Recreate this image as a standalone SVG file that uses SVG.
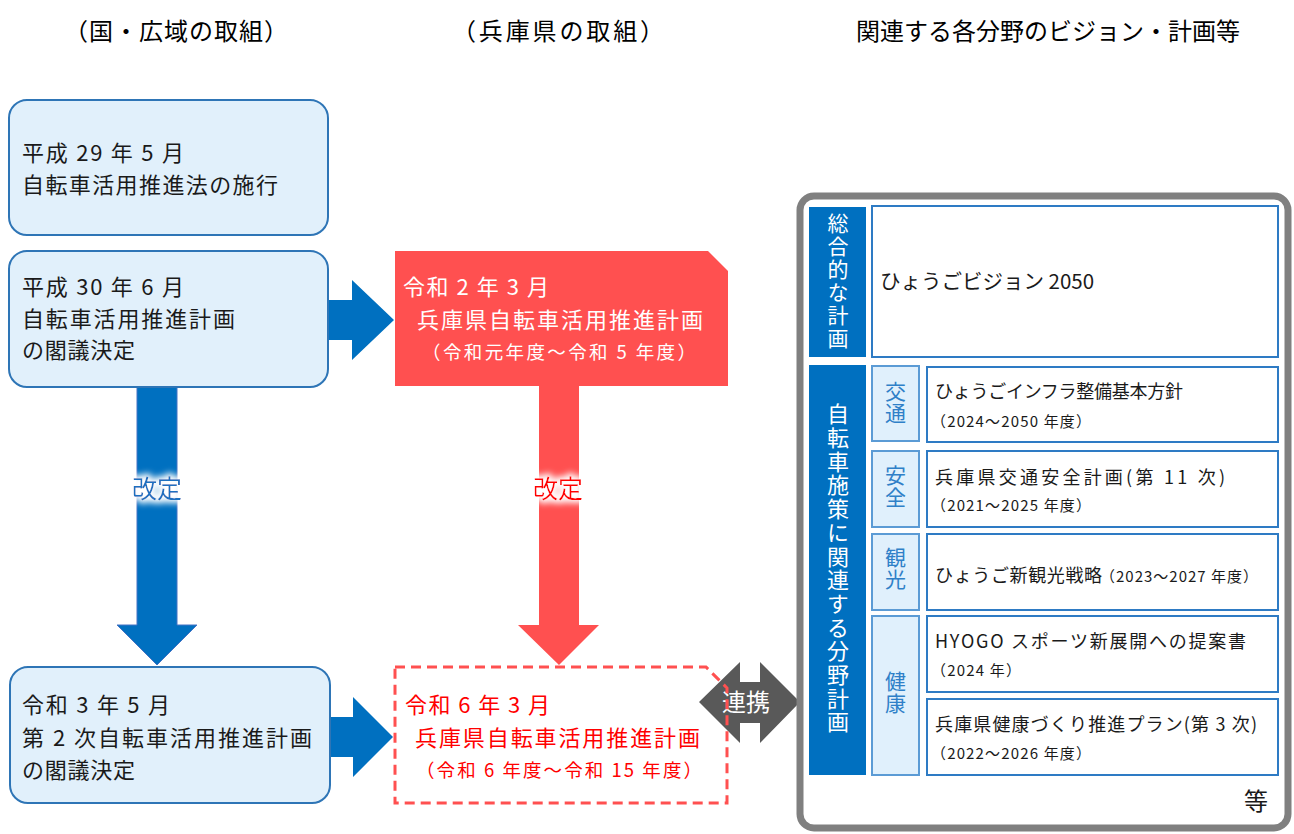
<svg xmlns="http://www.w3.org/2000/svg" width="1294" height="834" viewBox="0 0 1294 834">
<defs>
<style>
text{font-family:"Meiryo","Noto Sans CJK JP","Noto Sans",sans-serif;}
.hdr{font-size:24px;fill:#000;}
.bt{font-size:22px;fill:#1a1a1a;}
.nbox{fill:#e1f0fb;stroke:#2e75b6;stroke-width:2;}
.wt{fill:#fff;}
.rt{fill:#ff0000;}
.plan{fill:#fff;stroke:#2e7bc4;stroke-width:2;}
.cat{fill:#0070c0;}
.sub{fill:#e0f0fc;stroke:#5b9bd5;stroke-width:2;}
.subt{font-size:21px;fill:#2f80c8;writing-mode:vertical-rl;letter-spacing:1px;}
.vt{font-size:21px;fill:#fff;writing-mode:vertical-rl;}
.pt{font-size:18px;fill:#1a1a1a;}
.ps{font-size:15px;fill:#1a1a1a;}
</style>
<filter id="glow" x="-30%" y="-30%" width="160%" height="160%">
<feMorphology in="SourceAlpha" operator="dilate" radius="3" result="d"/>
<feGaussianBlur in="d" stdDeviation="3" result="b"/>
<feFlood flood-color="#ffffff"/>
<feComposite in2="b" operator="in" result="g"/>
<feMerge><feMergeNode in="g"/><feMergeNode in="SourceGraphic"/></feMerge>
</filter>
</defs>
<rect width="1294" height="834" fill="#fff"/>

<g id="headers">
<text class="hdr" x="64" y="40" textLength="224" lengthAdjust="spacing">（国・広域の取組）</text>
<text class="hdr" x="452" y="40" textLength="212" lengthAdjust="spacing">（兵庫県の取組）</text>
<text class="hdr" x="1048" y="40" text-anchor="middle">関連する各分野のビジョン・計画等</text>
</g>

<g id="connectors">
<polygon fill="#0070c0" points="328,300 352,300 352,280 394,320 352,360 352,340 328,340"/>
<polygon fill="#0070c0" points="330,717 353,717 353,697 393,737 353,777 353,757 330,757"/>
<polygon fill="#0070c0" stroke="#4472c4" stroke-width="1" points="137,387 177,387 177,625 197,625 157,665 117,625 137,625"/>
<text x="157" y="498" font-size="25" fill="#1f6fc0" text-anchor="middle" filter="url(#glow)">改定</text>
<polygon fill="#ff5050" points="539,386 579,386 579,625 599,625 559,665 518,625 539,625"/>
<text x="558" y="498" font-size="25" fill="#ff0000" text-anchor="middle" filter="url(#glow)">改定</text>
<polygon fill="#595959" points="699,702 740,662 740,682 760,682 760,662 800,702 760,743 760,723 740,723 740,743"/>
<text x="746" y="711" font-size="24" fill="#fff" text-anchor="middle">連携</text>
</g>

<g id="node-h29">
<rect class="nbox" x="9" y="100" width="319" height="135" rx="18"/>
<text class="bt" x="22" y="161" textLength="162" lengthAdjust="spacing">平成 29 年 5 月</text>
<text class="bt" x="22" y="193" textLength="256" lengthAdjust="spacing">自転車活用推進法の施行</text>
</g>

<g id="node-h30">
<rect class="nbox" x="9" y="251" width="319" height="136" rx="18"/>
<text class="bt" x="22" y="295" textLength="162" lengthAdjust="spacing">平成 30 年 6 月</text>
<text class="bt" x="22" y="327" textLength="213" lengthAdjust="spacing">自転車活用推進計画</text>
<text class="bt" x="22" y="358" textLength="113" lengthAdjust="spacing">の閣議決定</text>
</g>

<g id="node-r3">
<rect class="nbox" x="10" y="667" width="320" height="136" rx="18"/>
<text class="bt" x="22" y="713" textLength="148" lengthAdjust="spacing">令和 3 年 5 月</text>
<text class="bt" x="22" y="746" textLength="290" lengthAdjust="spacing">第 2 次自転車活用推進計画</text>
<text class="bt" x="22" y="778" textLength="113" lengthAdjust="spacing">の閣議決定</text>
</g>

<g id="node-r2">
<polygon fill="#ff5050" points="395,251 708,251 728,271 728,386 395,386"/>
<text class="bt wt" x="403" y="295" textLength="146" lengthAdjust="spacing">令和 2 年 3 月</text>
<text class="bt wt" x="417" y="328" textLength="286" lengthAdjust="spacing">兵庫県自転車活用推進計画</text>
<text class="wt" x="422" y="359" font-size="18.5" textLength="274" lengthAdjust="spacing">（令和元年度～令和 5 年度）</text>
</g>

<g id="node-r6">
<polygon fill="none" stroke="#ff5050" stroke-width="3" stroke-dasharray="10,6" points="395,667 706,667 727,688 727,803 395,803"/>
<text class="bt rt" x="405" y="713" textLength="145" lengthAdjust="spacing">令和 6 年 3 月</text>
<text class="bt rt" x="415" y="746" textLength="285" lengthAdjust="spacing">兵庫県自転車活用推進計画</text>
<text class="rt" x="416" y="777" font-size="18.5" textLength="286" lengthAdjust="spacing">（令和 6 年度～令和 15 年度）</text>
</g>

<g id="panel">
<rect x="800" y="196" width="488" height="632" rx="14" fill="#fff" stroke="#808080" stroke-width="7"/>
</g>

<g id="cat-general">
<rect class="cat" x="809" y="207" width="57" height="150"/>
<text class="vt" x="838" y="213" style="letter-spacing:2px">総合的な計画</text>
</g>

<g id="plan-vision">
<rect class="plan" x="872" y="206" width="406" height="151"/>
<text x="880" y="289" font-size="20.5" fill="#1a1a1a">ひょうごビジョン 2050</text>
</g>

<g id="cat-bike">
<rect class="cat" x="809" y="365" width="57" height="410"/>
<text class="vt" x="838" y="403" style="font-size:22px;letter-spacing:1.7px">自転車施策に関連する分野計画</text>
</g>

<g id="sub-traffic">
<rect class="sub" x="872" y="366" width="47" height="75"/>
<text class="subt" x="895.5" y="381">交通</text>
</g>
<g id="plan-infra">
<rect class="plan" x="927" y="367" width="351" height="75"/>
<text class="pt" x="935" y="398" textLength="248" lengthAdjust="spacing">ひょうごインフラ整備基本方針</text>
<text class="ps" x="931" y="427" textLength="160" lengthAdjust="spacing">（2024～2050 年度）</text>
</g>

<g id="sub-safety">
<rect class="sub" x="872" y="451" width="47" height="76"/>
<text class="subt" x="895.5" y="465">安全</text>
</g>
<g id="plan-safety">
<rect class="plan" x="927" y="451" width="351" height="76"/>
<text class="pt" x="935" y="484" textLength="290" lengthAdjust="spacing">兵庫県交通安全計画(第 11 次)</text>
<text class="ps" x="931" y="511" textLength="160" lengthAdjust="spacing">（2021～2025 年度）</text>
</g>

<g id="sub-tourism">
<rect class="sub" x="872" y="534" width="47" height="76"/>
<text class="subt" x="895.5" y="547">観光</text>
</g>
<g id="plan-tourism">
<rect class="plan" x="927" y="534" width="351" height="76"/>
<text class="pt" x="935" y="582" textLength="167" lengthAdjust="spacing">ひょうご新観光戦略</text>
<text class="ps" x="1100" y="582" textLength="158" lengthAdjust="spacing">（2023～2027 年度）</text>
</g>

<g id="sub-health">
<rect class="sub" x="872" y="616" width="47" height="159"/>
<text class="subt" x="895.5" y="671">健康</text>
</g>
<g id="plan-sports">
<rect class="plan" x="927" y="616" width="351" height="76"/>
<text class="pt" x="935" y="648" textLength="311" lengthAdjust="spacing">HYOGO スポーツ新展開への提案書</text>
<text class="ps" x="931" y="676" textLength="90" lengthAdjust="spacing">（2024 年）</text>
</g>
<g id="plan-health">
<rect class="plan" x="927" y="699" width="351" height="76"/>
<text class="pt" x="935" y="731" textLength="322" lengthAdjust="spacing">兵庫県健康づくり推進プラン(第 3 次)</text>
<text class="ps" x="931" y="759" textLength="160" lengthAdjust="spacing">（2022～2026 年度）</text>
</g>

<g id="etc">
<text x="1256" y="810" font-size="24" fill="#1a1a1a" text-anchor="middle">等</text>
</g>
</svg>
